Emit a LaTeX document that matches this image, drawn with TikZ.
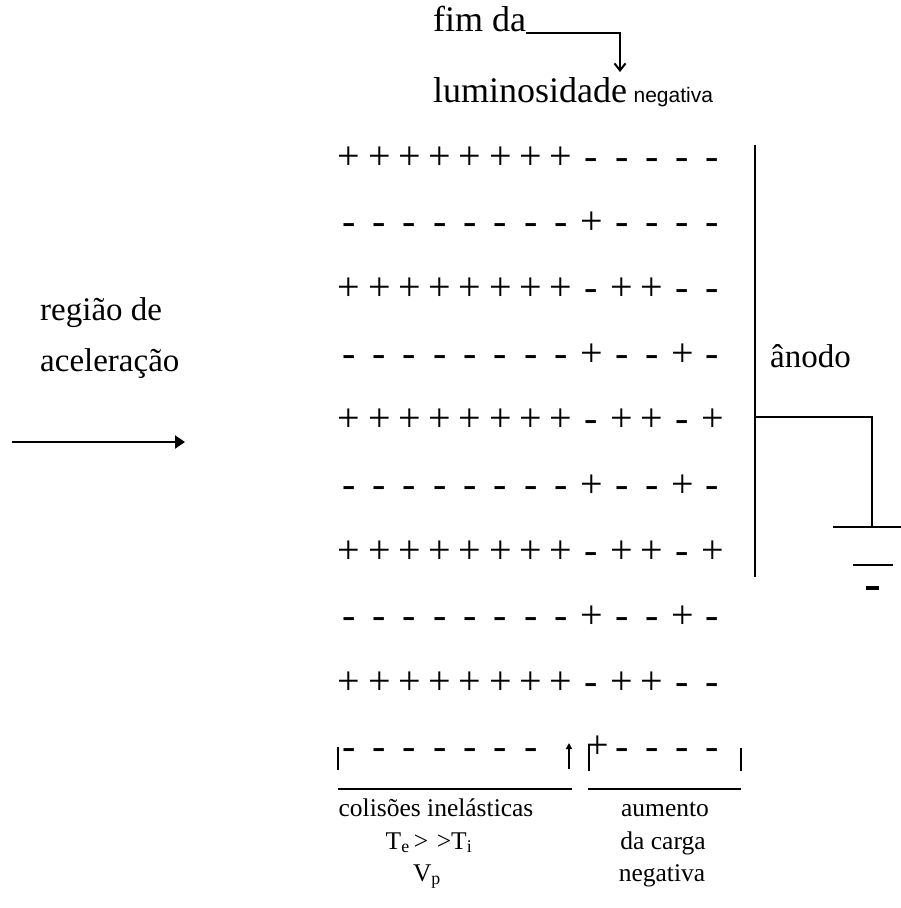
\documentclass[tikz,border=0pt]{standalone}
\usepackage{fontspec}
\setmainfont{Liberation Serif}
\newfontfamily\arialf{Liberation Sans}
\usetikzlibrary{arrows.meta}
\begin{document}
\begin{tikzpicture}[x=1pt,y=-1pt,
  sg/.style={inner sep=0pt, anchor=base, font=\fontsize{40}{44}\selectfont},
  big/.style={inner sep=0pt, anchor=base west, font=\fontsize{36}{40}\selectfont},
  mid/.style={inner sep=0pt, anchor=base west, font=\fontsize{33}{38}\selectfont},
  small/.style={inner sep=0pt, anchor=base, font=\fontsize{25.5}{30}\selectfont},
  ln/.style={line width=2pt},
]
\useasboundingbox (0,0) rectangle (901,908);

% top labels
\node[big] (fimda) at (433,31) {fim da};
\node[big] (lum) at (433,102) {luminosidade};
\node[inner sep=0pt, anchor=base west, font=\arialf\fontsize{21}{24}\selectfont] (neg) at ([xshift=6pt]lum.base east) {negativa};
\coordinate (tip) at (620,72);
\draw[ln, -{Straight Barb[length=7pt,width=11pt]}] ([yshift=-2pt]fimda.base east) -| (tip);

% rows of charges
\foreach \r/\signs in {0/{+,+,+,+,+,+,+,+,-,-,-,-,-},
                       1/{-,-,-,-,-,-,-,-,+,-,-,-,-},
                       2/{+,+,+,+,+,+,+,+,-,+,+,-,-},
                       3/{-,-,-,-,-,-,-,-,+,-,-,+,-},
                       4/{+,+,+,+,+,+,+,+,-,+,+,-,+},
                       5/{-,-,-,-,-,-,-,-,+,-,-,+,-},
                       6/{+,+,+,+,+,+,+,+,-,+,+,-,+},
                       7/{-,-,-,-,-,-,-,-,+,-,-,+,-},
                       8/{+,+,+,+,+,+,+,+,-,+,+,-,-}}{
  \foreach \s [count=\c from 0] in \signs
    \node[sg] (r\r c\c) at ({349+30.3*\c}, {169+65.7*\r}) {\s};
}
% last row
\foreach \c in {0,...,6}
  \node[sg] (r9c\c) at ({349+30.3*\c}, 759) {-};
\node[sg] (r9c8) at (598,758) {+};
\foreach \c in {9,...,12}
  \node[sg] (r9c\c) at ({349+30.3*\c}, 759) {-};
\draw[ln] (338,747) -- (338,770);
\draw[ln] (589,744) -- (589,771);
\draw[ln] (741,748) -- (741,771);
\draw[line width=2pt, -{Triangle[length=6pt,width=6pt]}] (569,769) -- (569,743);

% underlines
\draw[ln] (338,789) -- (572,789);
\draw[ln] (588,789) -- (741,789);

% bottom texts
\node[small] (col) at (436,816) {colisões inelásticas};
\node[small] (te) at (429,849) {T\textsubscript{e}\,>\,\,>T\textsubscript{i}};
\node[small] (vp) at (427,881) {V\textsubscript{p}};
\node[small] (aum) at (665,816) {aumento};
\node[small] (dac) at (663,849) {da carga};
\node[small] (negb) at (662,881) {negativa};

% anode and ground
\draw[line width=2.5pt] (755,145) -- (755,577);
\node[mid] (anodo) at (770,367) {ânodo};
\draw[ln] (755,417) -| (872,527);
\draw[ln] (833,527) -- (901,527);
\draw[ln] (853,565) -- (893,565);
\draw[line width=4pt] (866,588) -- (879,588);

% left side
\node[mid] (reg) at (40,320) {região de};
\node[mid] (acel) at (40,371) {aceleração};
\draw[ln, -{Triangle[length=10pt,width=13pt]}] (12,442) -- (185,442);
\end{tikzpicture}
\end{document}
